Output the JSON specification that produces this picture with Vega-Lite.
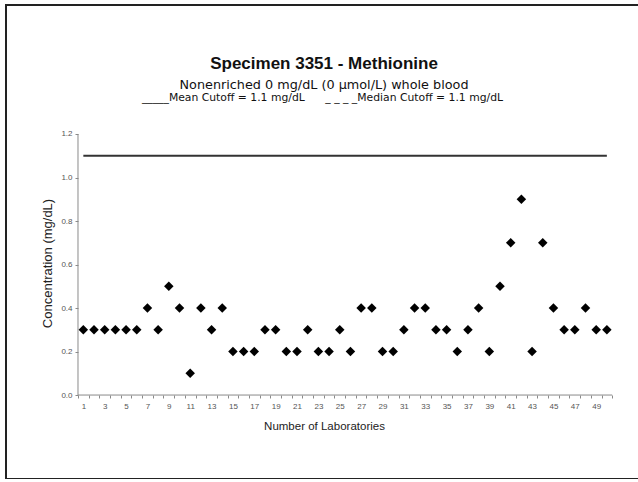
{
  "$schema": "https://vega.github.io/schema/vega-lite/v6.json",
  "autosize": {"type": "none"},
  "padding": {"left": 6, "top": 5, "right": 0, "bottom": 0},
  "width": 636,
  "height": 474,
  "background": "white",
  "config": {
    "view": {"stroke": "#222222", "strokeWidth": 2},
    "font": "Liberation Sans"
  },
  "title": {
    "text": "Specimen 3351 - Methionine",
    "subtitle": "Nonenriched 0 mg/dL (0 µmol/L) whole blood",
    "anchor": "middle",
    "frame": "group",
    "offset": -88,
    "font": "Liberation Sans",
    "fontSize": 17,
    "fontWeight": "bold",
    "color": "#111111",
    "subtitleFont": "DejaVu Sans",
    "subtitleFontSize": 12.8,
    "subtitleColor": "#111111",
    "subtitlePadding": 6,
    "subtitleLineHeight": 15
  },
  "datasets": {
    "labs": [
      {"lab": 1, "conc": 0.3}, {"lab": 2, "conc": 0.3}, {"lab": 3, "conc": 0.3}, {"lab": 4, "conc": 0.3}, {"lab": 5, "conc": 0.3},
      {"lab": 6, "conc": 0.3}, {"lab": 7, "conc": 0.4}, {"lab": 8, "conc": 0.3}, {"lab": 9, "conc": 0.5}, {"lab": 10, "conc": 0.4},
      {"lab": 11, "conc": 0.1}, {"lab": 12, "conc": 0.4}, {"lab": 13, "conc": 0.3}, {"lab": 14, "conc": 0.4}, {"lab": 15, "conc": 0.2},
      {"lab": 16, "conc": 0.2}, {"lab": 17, "conc": 0.2}, {"lab": 18, "conc": 0.3}, {"lab": 19, "conc": 0.3}, {"lab": 20, "conc": 0.2},
      {"lab": 21, "conc": 0.2}, {"lab": 22, "conc": 0.3}, {"lab": 23, "conc": 0.2}, {"lab": 24, "conc": 0.2}, {"lab": 25, "conc": 0.3},
      {"lab": 26, "conc": 0.2}, {"lab": 27, "conc": 0.4}, {"lab": 28, "conc": 0.4}, {"lab": 29, "conc": 0.2}, {"lab": 30, "conc": 0.2},
      {"lab": 31, "conc": 0.3}, {"lab": 32, "conc": 0.4}, {"lab": 33, "conc": 0.4}, {"lab": 34, "conc": 0.3}, {"lab": 35, "conc": 0.3},
      {"lab": 36, "conc": 0.2}, {"lab": 37, "conc": 0.3}, {"lab": 38, "conc": 0.4}, {"lab": 39, "conc": 0.2}, {"lab": 40, "conc": 0.5},
      {"lab": 41, "conc": 0.7}, {"lab": 42, "conc": 0.9}, {"lab": 43, "conc": 0.2}, {"lab": 44, "conc": 0.7}, {"lab": 45, "conc": 0.4},
      {"lab": 46, "conc": 0.3}, {"lab": 47, "conc": 0.3}, {"lab": 48, "conc": 0.4}, {"lab": 49, "conc": 0.3}, {"lab": 50, "conc": 0.3}
    ],
    "cutoff": [{"start": 1, "end": 50, "value": 1.1}],
    "xaxis": [{"start": 0.5, "end": 50.5, "value": 0}],
    "yaxis": [{"pos": 0.5, "low": 0, "high": 1.2}],
    "legend": [{"label": "_____Mean Cutoff = 1.1 mg/dL\u00a0\u00a0\u00a0\u00a0\u00a0\u00a0_ _ _ _Median Cutoff = 1.1 mg/dL"}]
  },
  "layer": [
    {
      "data": {"name": "xaxis"},
      "mark": {"type": "rule", "color": "#8a8a8a", "strokeWidth": 1},
      "encoding": {
        "x": {"field": "start", "type": "quantitative"},
        "x2": {"field": "end"},
        "y": {"field": "value", "type": "quantitative"}
      }
    },
    {
      "data": {"name": "yaxis"},
      "mark": {"type": "rule", "color": "#8a8a8a", "strokeWidth": 1},
      "encoding": {
        "x": {"field": "pos", "type": "quantitative"},
        "y": {"field": "low", "type": "quantitative"},
        "y2": {"field": "high"}
      }
    },
    {
      "data": {"name": "cutoff"},
      "mark": {"type": "rule", "color": "#333333", "strokeWidth": 2},
      "encoding": {
        "x": {"field": "start", "type": "quantitative"},
        "x2": {"field": "end"},
        "y": {"field": "value", "type": "quantitative"}
      }
    },
    {
      "data": {"name": "legend"},
      "mark": {"type": "text", "font": "DejaVu Sans", "fontSize": 10.8, "color": "#111111", "align": "center", "baseline": "alphabetic"},
      "encoding": {
        "x": {"datum": 23.38, "type": "quantitative"},
        "y": {"datum": 1.352, "type": "quantitative"},
        "text": {"field": "label"}
      }
    },
    {
      "data": {"name": "labs"},
      "mark": {"type": "point", "shape": "diamond", "filled": true, "color": "#000000", "size": 90, "opacity": 1},
      "encoding": {
        "x": {
          "field": "lab", "type": "quantitative",
          "scale": {"domain": [-6.239, 53.289], "nice": false, "zero": false},
          "axis": {
            "title": "Number of Laboratories",
            "orient": "bottom",
            "offset": -84,
            "domain": false,
            "grid": false,
            "tickCount": 500,
            "values": [0.5,1.5,2.5,3.5,4.5,5.5,6.5,7.5,8.5,9.5,10.5,11.5,12.5,13.5,14.5,15.5,16.5,17.5,18.5,19.5,20.5,21.5,22.5,23.5,24.5,25.5,26.5,27.5,28.5,29.5,30.5,31.5,32.5,33.5,34.5,35.5,36.5,37.5,38.5,39.5,40.5,41.5,42.5,43.5,44.5,45.5,46.5,47.5,48.5,49.5,50.5],
            "labelExpr": "datum.value % 2 == 1.5 ? format(datum.value - 0.5, 'd') : ''",
            "labelOffset": -5.34,
            "tickColor": "#8a8a8a",
            "tickSize": 3,
            "labelFont": "Liberation Sans",
            "labelFontSize": 8,
            "labelColor": "#555555",
            "labelPadding": 4,
            "labelOverlap": false,
            "labelFlush": false,
            "titleFont": "Liberation Sans",
            "titleFontSize": 11.5,
            "titleFontWeight": "normal",
            "titleColor": "#222222",
            "titlePadding": 10
          }
        },
        "y": {
          "field": "conc", "type": "quantitative",
          "scale": {"domain": [-0.386, 1.793], "nice": false, "zero": false},
          "axis": {
            "title": "Concentration (mg/dL)",
            "orient": "left",
            "offset": -72,
            "domain": false,
            "grid": false,
            "tickCount": 100,
            "values": [0, 0.2, 0.4, 0.6, 0.8, 1.0, 1.2],
            "format": ".1f",
            "tickColor": "#8a8a8a",
            "tickSize": 3,
            "labelFont": "Liberation Sans",
            "labelFontSize": 8,
            "labelColor": "#555555",
            "labelPadding": 3,
            "labelOverlap": false,
            "titleFont": "Liberation Sans",
            "titleFontSize": 13,
            "titleFontWeight": "normal",
            "titleColor": "#222222",
            "titlePadding": 6,
            "titleY": 258
          }
        }
      }
    }
  ]
}
